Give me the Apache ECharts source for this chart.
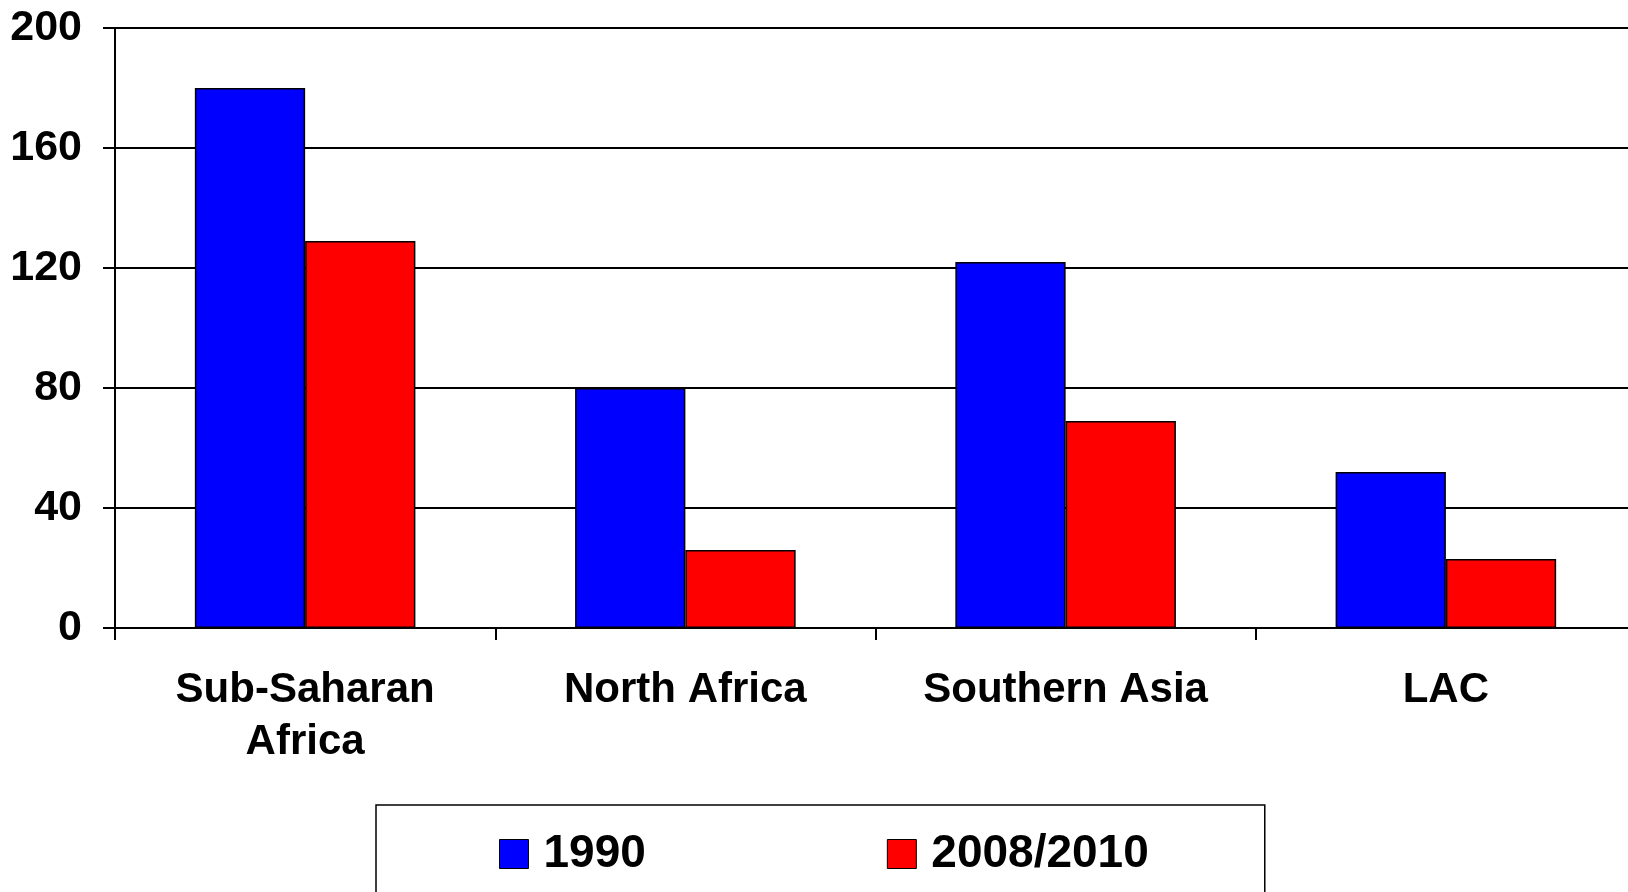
<!DOCTYPE html>
<html>
<head>
<meta charset="utf-8">
<script src="https://cdn.jsdelivr.net/npm/echarts@6/dist/echarts.min.js"></script>
<style>
  html, body { margin: 0; padding: 0; background: #fff; overflow: hidden; }
  /* plot area runs a little past the right edge of the window, as in the original */
  #chart { width: 1636px; height: 892px; }
</style>
</head>
<body>
<div id="chart"></div>
<script>
const categories = ["Sub-Saharan\nAfrica", "North Africa", "Southern Asia", "LAC"];
const values1990 = [180, 80, 122, 52];
const values2010 = [129, 26, 69, 23];
const seriesNames = ["1990", "2008/2010"];

const font = "'Liberation Sans', Arial, sans-serif";

let myChart = echarts.init(document.getElementById("chart"));

myChart.setOption({
  backgroundColor: "#fff",
  animation: false,
  textStyle: { fontFamily: font },
  grid: {
    left: 115,
    right: 0,
    top: 28,
    bottom: 264,
  },
  legend: {
    left: 376,
    top: 805,
    orient: "horizontal",
    itemWidth: 29,
    itemHeight: 29,
    itemGap: 241,
    padding: [26, 116, 40, 123],
    borderColor: "#000",
    borderWidth: 1.5,
    icon: "rect",
    itemStyle: { borderColor: "#000", borderWidth: 1 },
    textStyle: {
      fontFamily: font,
      fontSize: 46,
      fontWeight: "bold",
      color: "#000",
      padding: [0, 0, 0, 10],
    },
    data: seriesNames,
  },
  xAxis: {
    type: "category",
    data: categories,
    axisLine: { lineStyle: { color: "#000", width: 2 } },
    axisTick: { show: true, length: 12, lineStyle: { color: "#000", width: 2 } },
    axisLabel: {
      color: "#000",
      fontFamily: font,
      fontSize: 42,
      fontWeight: "bold",
      lineHeight: 52,
      margin: 36,
      interval: 0,
    },
  },
  yAxis: {
    type: "value",
    min: 0,
    max: 200,
    interval: 40,
    axisLine: { show: true, lineStyle: { color: "#000", width: 2 } },
    axisTick: { show: true, length: 12, lineStyle: { color: "#000", width: 2 } },
    splitLine: { show: true, lineStyle: { color: "#000", width: 2 } },
    axisLabel: {
      color: "#000",
      fontFamily: font,
      fontSize: 43,
      fontWeight: "bold",
      margin: 33,
    },
  },
  series: [
    {
      name: seriesNames[0],
      type: "bar",
      data: values1990,
      barGap: "0%",
      barCategoryGap: "42%",
      itemStyle: { color: "#0000ff", borderColor: "#000", borderWidth: 1.5 },
    },
    {
      name: seriesNames[1],
      type: "bar",
      data: values2010,
      itemStyle: { color: "#ff0000", borderColor: "#000", borderWidth: 1.5 },
    },
  ],
});
</script>
</body>
</html>
